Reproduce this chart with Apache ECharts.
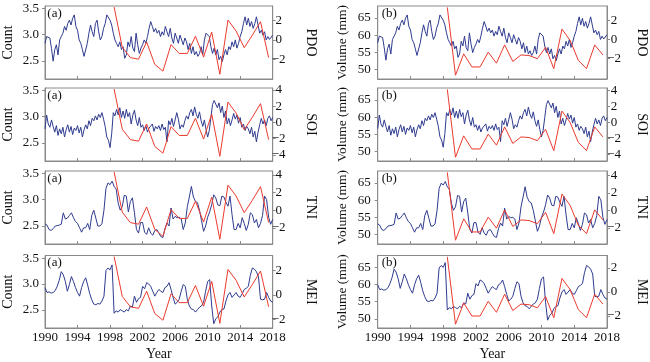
<!DOCTYPE html>
<html><head><meta charset="utf-8">
<script src="https://cdn.jsdelivr.net/npm/echarts@6/dist/echarts.min.js"></script>
<style>html,body{margin:0;padding:0;background:#fff}#c{width:650px;height:362px}</style>
</head><body><div id="c"></div>
<script>
// ---------------- data ----------------
const xTickYears = [1990, 1994, 1998, 2002, 2006, 2010, 2014, 2018];
const indexNames = ['PDO', 'SOI', 'TNI', 'MEI'];
const leftNames = ['Count', 'Volume (mm)'];
const panelTags = ['(a)', '(b)'];

// monthly-ish climate indices (blue)
const pdoStart = 1990, pdoStep = 0.2;
const pdo = [
 -0.35,0.35,0.5,0.2,-0.9,
 -2.2,-1.0,-0.5,-1.55,0,
 0.35,0.7,1.4,1.0,1.7,
 2.05,1.55,2.25,2.6,1.4,
 1.0,0,-0.35,-1.0,-1.7,
 -1.9,-0.35,0.7,1.55,0.85,
 0.35,1.7,2.05,0.85,0,
 0.35,1.2,1.7,2.6,2.75,
 2.05,1.55,0.7,0,-0.35,
 -0.7,-0.2,-1.0,-0.7,-1.9,
 -1.55,-0.2,-0.7,0.35,-0.85,
 -1.2,0.7,-0.5,-1.4,-0.85,
 -0.5,0,-0.35,0.35,1.2,
 1.9,1.4,0.85,1.2,0.7,
 1.0,0.35,0.85,0.5,1.4,
 0.85,0.35,1.2,0.2,-0.35,
 0.7,0.2,-0.35,0.5,0,
 -0.5,0.2,-0.2,-1.0,-0.35,
 -1.4,-0.7,-1.55,-1.2,-1.7,
 -1.4,-0.7,-1.55,0,0.7,
 0.85,0.35,-0.7,-1.4,-0.85,
 -1.55,-1.0,-2.05,-1.7,-2.25,
 -1.55,-1.0,-1.55,-0.7,-1.0,
 -0.2,-0.7,0,-0.85,-0.35,
 0.35,0.85,1.7,2.4,1.55,
 2.25,1.4,1.9,1.2,1.7,
 2.4,1.55,0.7,1.0,0.5,
 0.85,0,0.35,0.05,0.05,
 0.5
];
const soiStart = 1990, soiStep = 0.2;
const soi = [
 -0.8,0.9,-0.2,-0.6,0.3,
 -0.5,-1.2,-0.4,-1.6,-0.8,
 -1.4,-0.6,-1.8,-0.9,-0.3,
 -1.2,-0.5,-1.5,-0.7,-1.0,
 -0.4,-1.3,-0.6,-1.8,-0.9,
 -0.3,-0.8,0.2,-0.4,0.5,
 0.2,0.8,0.3,1.0,0.6,
 1.2,0.4,-0.5,-1.8,-2.2,
 -3.1,-1.4,1.2,0.8,1.6,
 0.9,1.8,0.6,1.4,0.5,
 1.6,0.7,1.2,-0.2,0.9,
 1.5,0.3,-0.4,0.6,-0.6,
 -0.3,-1.0,-0.4,-1.2,-0.7,
 -0.9,-0.2,-1.1,-0.5,-0.8,
 -0.4,-1.0,-0.2,-0.9,-0.6,
 -2.4,0.2,-0.3,0.5,-0.5,
 0.3,1.2,0.4,-0.8,-0.3,
 -0.6,0.2,0.8,0.4,1.2,
 1.6,0.8,1.9,1.0,0.5,
 1.3,0.2,-0.5,0.3,-0.9,
 -1.8,-1.0,0.6,2.2,2.7,
 2.9,1.8,2.4,1.2,2.0,
 0.6,1.4,-0.2,0.5,-0.4,
 0.3,1.1,0.4,0.9,-0.1,
 0.6,-0.6,-0.2,-1.0,-0.5,
 -0.8,-1.4,-0.6,-1.8,-1.1,
 -2.4,-1.2,-0.3,0.5,-0.2,
 0.3,-0.4,0.5,0.8,0.2,
 0.6
];
const tniStart = 1990, tniStep = 0.25;
const tni = [
 -1.55,-1.7,-2.2,-2.3,
 -2.1,-1.8,-1.75,-1.7,
 -1.6,-0.3,-1.0,-0.9,
 -0.6,-0.3,-0.85,-1.3,
 -1.5,-2.0,-2.5,-2.0,
 -2.0,-1.5,-2.2,-0.6,
 0.0,-0.9,-1.8,-1.8,
 -1.55,0.0,2.5,3.1,
 2.9,3.3,2.7,2.4,
 0.8,0.0,0.4,1.7,
 1.6,-0.2,1.0,1.4,
 -0.3,-2.2,-2.6,-1.4,
 -1.4,-2.5,-2.75,-2.0,
 -2.6,-2.85,-2.3,-2.2,
 -2.6,-3.0,-3.1,-2.1,
 -1.45,-1.8,0.25,-1.0,
 -0.7,-0.85,-0.8,-1.0,
 -2.2,-1.45,0.4,1.5,
 2.7,1.5,1.0,0.85,
 0.0,-1.2,-2.4,-1.8,
 -0.8,-0.2,0.65,1.75,
 1.4,0.6,0.5,1.6,
 1.5,0.9,0.45,1.6,
 -0.5,-2.2,-2.2,-1.5,
 -2.0,-0.85,-1.5,-2.3,
 -1.6,-0.3,-0.5,-1.45,
 -1.05,-2.0,-1.5,-0.6,
 1.6,1.2,-0.8,-1.6,
 -1.05
];
const meiStart = 1990, meiStep = 0.25;
const mei = [
 0.6,0.2,0.25,0.15,
 0.2,0.35,0.7,1.2,
 1.9,1.65,1.1,0.3,
 0.85,1.5,1.1,0.6,
 0.2,-0.1,0.6,1.1,
 1.4,0.8,0.1,-0.4,
 -0.75,-0.8,-0.7,-0.75,
 -0.5,-0.1,2.0,2.2,
 2.05,2.45,-1.5,-1.3,
 -1.4,-1.2,-1.3,-1.4,
 -1.2,-1.3,-0.9,-1.0,
 -0.1,-0.6,-0.3,-0.2,
 0.7,0.5,1.0,0.9,
 0.7,0.3,-0.1,0.2,
 0.45,0.3,0.2,0.6,
 0.7,1.0,0.45,-0.2,
 -0.75,-0.6,-0.35,0.3,
 0.85,0.7,-0.35,-0.9,
 -1.15,-1.2,-1.4,-1.2,
 -1.0,-0.9,-0.6,0.3,
 1.1,1.25,-0.9,-2.35,
 -1.95,-1.8,-1.4,-1.2,
 -1.15,-0.5,0.0,0.2,
 -0.2,0.0,0.2,-0.1,
 -0.2,0.1,0.45,0.55,
 0.7,1.6,2.2,2.1,
 1.9,1.5,-0.35,-0.4,
 -0.35,0.2,-0.2,-0.5,
 -0.6
];
const indexSeries = [
  {values: pdo, start: pdoStart, step: pdoStep},
  {values: soi, start: soiStart, step: soiStep},
  {values: tni, start: tniStart, step: tniStep},
  {values: mei, start: meiStart, step: meiStep}
];

// annual series (red), 1998-2017, plotted at mid-year
const redStart = 1998.5;
const countRed = [3.53,2.76,2.56,2.53,2.86,2.43,2.30,2.81,2.64,2.64,2.97,2.57,3.05,2.24,3.28,3.07,2.75,2.99,3.25,2.56];
const volumeRed = [68.1,48.4,54.6,50.8,50.8,55.1,51.9,57.2,52.4,54.3,54.1,53.2,56.5,50.3,61.8,58.5,52.7,50.3,57.2,54.3];
const redSeries = [countRed, volumeRed];

// tick labels
const countTicks = [2.5, 3.0, 3.5];
const volumeTicks = [50, 55, 60, 65];
const leftTicks = [countTicks, volumeTicks];
const indexTicks = [[-2, 0, 2], [-4, -2, 0, 2, 4], [-2, 0, 2, 4], [-2, 0, 2]];

// ---------------- layout ----------------
const FONT = '"Liberation Serif","Times New Roman",serif';
const TXT = '#111';
const AX = '#8a8a8a';
const BLUE = '#2f3b8f';
const RED = '#ec3a2e';
const rowTop = [6, 88, 171, 255.5];
const rowH = [73, 73, 73, 74];
const colLeft = [43.3, 377.7];
const colW = [229.4, 231];
const leftRange = [[2.15, 3.55], [47.3, 68.5]];
const rightRange = [
  [[-4.05, 3.52], [-4.2, 3.55]],
  [[-4.75, 4.23], [-4.81, 4.27]],
  [[-3.84, 4.45], [-3.85, 4.5]],
  [[-2.70, 3.22], [-3.0, 3.04]]
];
const leftNameGap = [30, 28];
const leftNameSize = [14, 13.5];
const leftLabelMargin = [6, 7];
const rightNameGap = [31, 28];
const rightLabelMargin = [6, 7];

const fmtSigned = v => (v < 0 ? '\u2212' + Math.abs(v) : String(v));

const grids = [], xAxes = [], yAxes = [], series = [], titles = [];
for (let r = 0; r < 4; r++) {
  for (let c = 0; c < 2; c++) {
    const g = r * 2 + c;
    grids.push({left: colLeft[c], top: rowTop[r], width: colW[c], height: rowH[r],
      show: true, borderColor: AX, borderWidth: 1, backgroundColor: 'transparent'});
    const bottom = (r === 3);
    xAxes.push({
      type: 'value', gridIndex: g, min: 1990, max: 2018, position: 'bottom',
      axisLine: {show: true, onZero: false, lineStyle: {color: AX, width: 1}},
      axisTick: {show: true, inside: true, length: 3, customValues: xTickYears, lineStyle: {color: AX}},
      axisLabel: {show: bottom, customValues: xTickYears, margin: 3, fontFamily: FONT, fontSize: 13, color: TXT,
        formatter: v => String(Math.round(v))},
      splitLine: {show: false},
      name: bottom ? 'Year' : '', nameLocation: 'middle', nameGap: 19,
      nameTextStyle: {fontFamily: FONT, fontSize: 14, color: TXT}
    });
    // left axis
    yAxes.push({
      type: 'value', gridIndex: g, position: 'left',
      min: leftRange[c][0], max: leftRange[c][1],
      axisLine: {show: true, onZero: false, lineStyle: {color: AX}},
      axisTick: {show: true, length: 3, customValues: leftTicks[c], lineStyle: {color: AX}},
      axisLabel: {customValues: leftTicks[c], margin: leftLabelMargin[c], fontFamily: FONT, fontSize: 13, color: TXT,
        formatter: v => (c === 0 ? Number(v).toFixed(1) : String(Math.round(v)))},
      splitLine: {show: false},
      name: leftNames[c], nameLocation: 'middle', nameGap: leftNameGap[c], nameRotate: 90,
      nameTextStyle: {fontFamily: FONT, fontSize: leftNameSize[c], color: TXT}
    });
    // right axis
    yAxes.push({
      type: 'value', gridIndex: g, position: 'right',
      min: rightRange[r][c][0], max: rightRange[r][c][1],
      axisLine: {show: true, onZero: false, lineStyle: {color: AX}},
      axisTick: {show: true, length: 3, customValues: indexTicks[r], lineStyle: {color: AX}},
      axisLabel: {customValues: indexTicks[r], margin: rightLabelMargin[c], align: 'center',
        fontFamily: FONT, fontSize: 13, color: TXT, formatter: fmtSigned},
      splitLine: {show: false},
      name: indexNames[r], nameLocation: 'middle', nameGap: rightNameGap[c], nameRotate: -90,
      nameTextStyle: {fontFamily: FONT, fontSize: 14, color: TXT}
    });
    const idx = indexSeries[r];
    series.push({
      type: 'line', xAxisIndex: g, yAxisIndex: 2 * g + 1,
      data: idx.values.map((v, i) => [idx.start + i * idx.step, v]),
      showSymbol: false, symbol: 'none', lineStyle: {color: BLUE, width: 1}, z: 2, silent: true
    });
    series.push({
      type: 'line', xAxisIndex: g, yAxisIndex: 2 * g,
      data: redSeries[c].map((v, i) => [redStart + i, v]),
      showSymbol: false, symbol: 'none', lineStyle: {color: RED, width: 1}, z: 3, silent: true
    });
    titles.push({text: panelTags[c], left: colLeft[c] + 4, top: rowTop[r] + 1,
      textStyle: {fontFamily: FONT, fontSize: 13, fontWeight: 'normal', color: TXT}, padding: 0});
  }
}

const chart = echarts.init(document.getElementById('c'), null, {renderer: 'canvas'});
chart.setOption({
  backgroundColor: '#fff',
  animation: false,
  title: titles,
  grid: grids,
  xAxis: xAxes,
  yAxis: yAxes,
  series: series
});
</script>
</body></html>
